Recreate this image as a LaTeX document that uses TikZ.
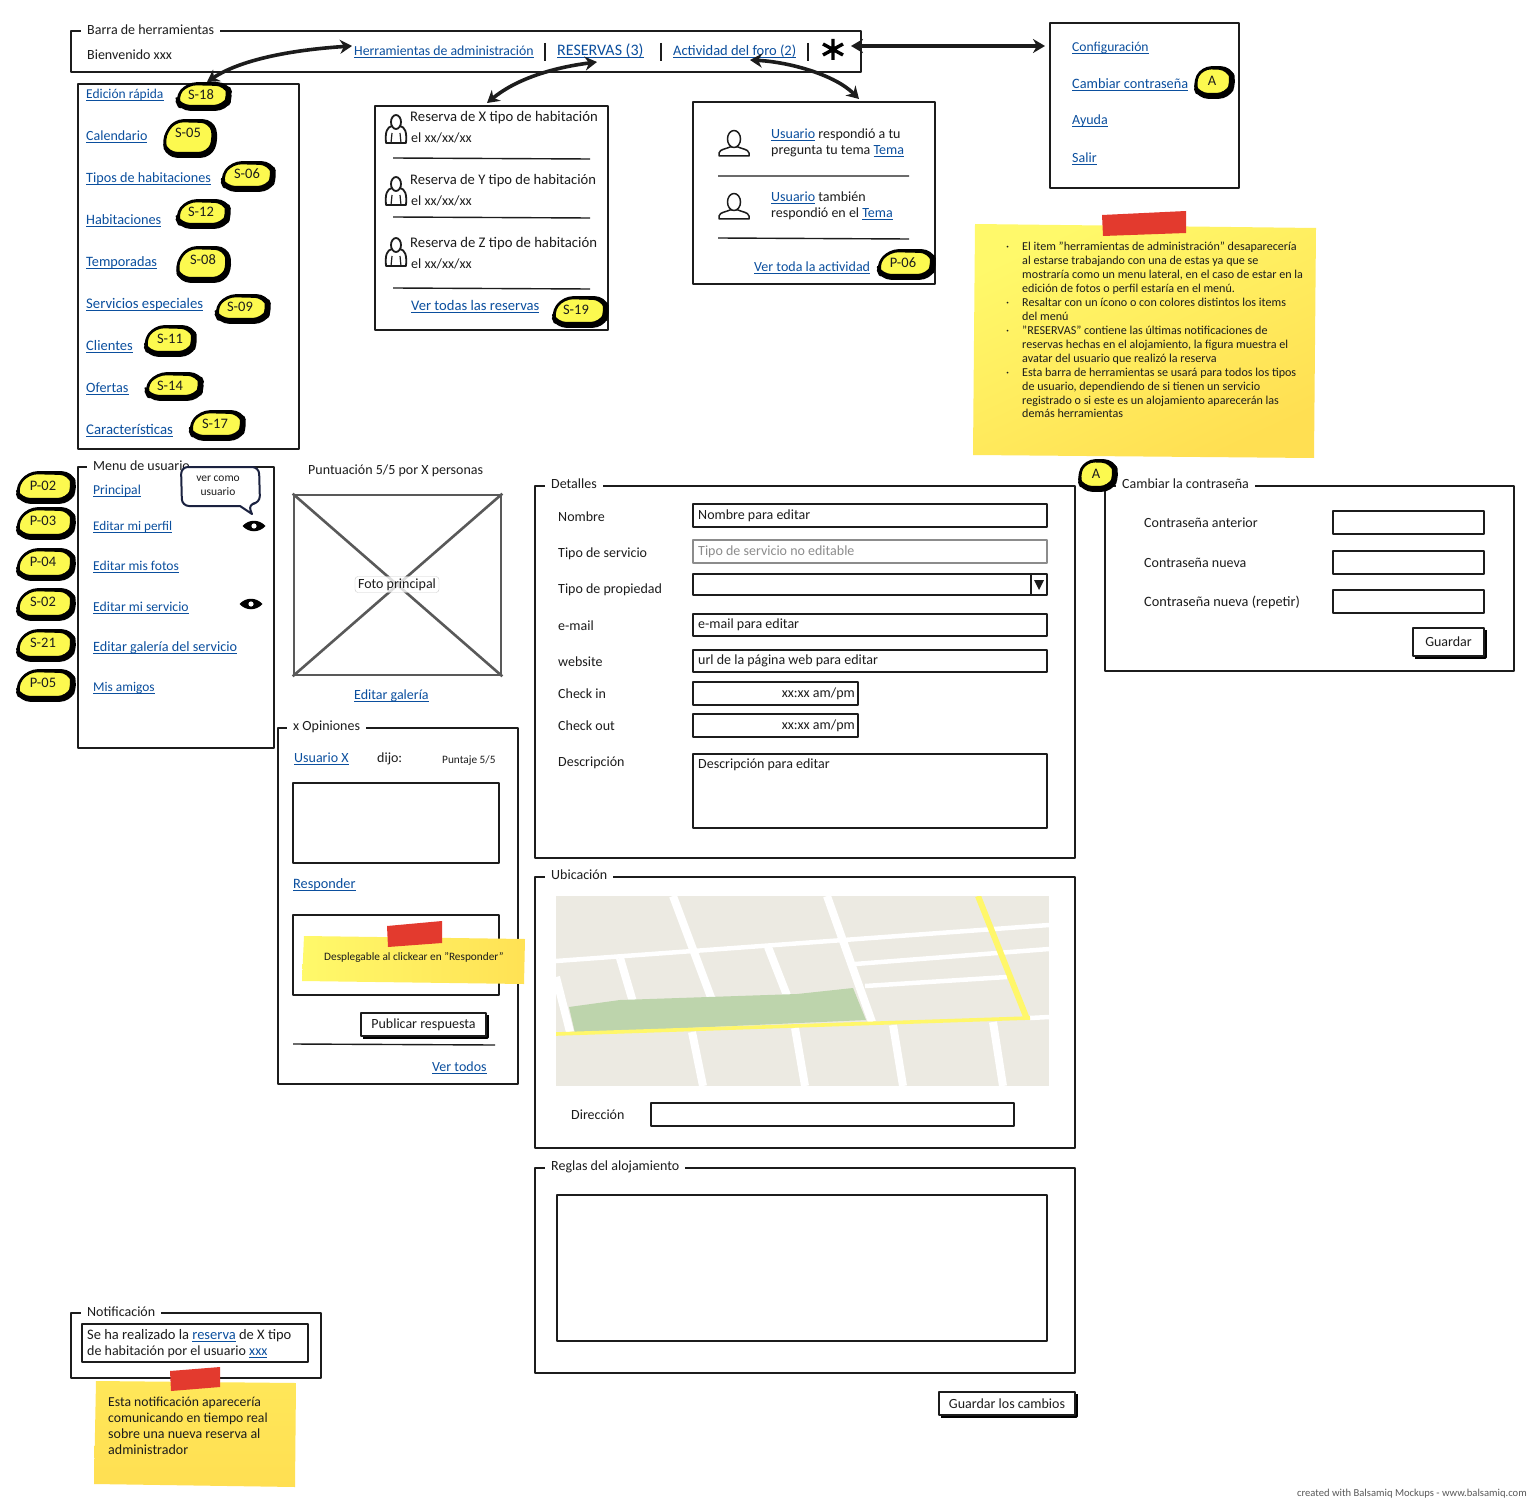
\documentclass[tikz,border=0pt]{standalone}
\usepackage{fontspec}
\setmainfont{Carlito}
\usetikzlibrary{arrows.meta}
\definecolor{ink}{HTML}{1C1C1C}
\definecolor{linkc}{HTML}{0B4F9E}
\definecolor{tagy}{HTML}{FCF94F}
\definecolor{notea}{HTML}{FFF96A}
\definecolor{noteb}{HTML}{FFDF52}
\definecolor{tapec}{HTML}{E33A2E}
\definecolor{mapbg}{HTML}{ECEAE2}
\definecolor{mapg}{HTML}{BDD4AC}
\definecolor{mapy}{HTML}{FFF76A}
\definecolor{navy}{HTML}{1B2240}
\newcommand{\lk}[1]{\textcolor{linkc}{\underline{\smash{#1}}}}
\newcounter{tn}
\tikzset{
 txt/.style={anchor=west,inner sep=0pt,text height=9pt,text depth=3pt,yshift=-2.5pt,font=\fontsize{14}{16}\selectfont,text=ink},
 small/.style={txt,font=\fontsize{11.3}{13}\selectfont},
 notetxt/.style={txt,font=\fontsize{12.1}{13}\selectfont},
 box/.style={draw=ink,line width=1.7pt,fill=white,inner sep=0pt,outer sep=0pt},
 ttl/.style={txt,fill=white,inner xsep=6pt},
 arr/.style={line width=3.6pt,draw=ink,{Stealth[length=12pt,width=14pt]}-{Stealth[length=12pt,width=14pt]}},
 rule/.style={draw=ink,line width=1.4pt},
 road/.style={draw=white,line width=8pt},
 roadn/.style={draw=white,line width=4.5pt},
 tagfill/.style={fill=tagy,draw=black,line width=2.6pt,rounded corners=9pt},
}
\newcommand{\tx}[3]{\stepcounter{tn}\node[txt] (t\arabic{tn}) at (#1,#2) {#3};}
\newcommand{\txs}[4]{\stepcounter{tn}\node[txt,font=\fontsize{#1}{16}\selectfont] (t\arabic{tn}) at (#2,#3) {#4};}
\newcommand{\ts}[3]{\stepcounter{tn}\node[small] (t\arabic{tn}) at (#1,#2) {#3};}
\newcommand{\tn}[3]{\stepcounter{tn}\node[notetxt] (t\arabic{tn}) at (#1,#2) {#3};}
\newcommand{\panel}[5]{\node[box,minimum width={#4-#2},minimum height={#5-#3}] (#1) at ({(#2+#4)/2},{(#3+#5)/2}) {};}
\newcommand{\ttitle}[3]{\stepcounter{tn}\node[ttl] (t\arabic{tn}) at (#1-6,#2) {#3};}
\newcommand{\btn}[6]{\draw[black,line width=3pt] (#4+1,#3+2) -- (#4+1,#5+1) -- (#2+2,#5+1);
 \node[box,minimum width={#4-#2},minimum height={#5-#3},font=\fontsize{14}{16}\selectfont,text=ink] (#1) at ({(#2+#4)/2},{(#3+#5)/2}) {#6};}
\newcommand{\tagb}[8]{% name x1 y1 x2 y2 tx ty text
 \draw[tagfill,line width=3.6pt,fill=black] (#2+1,{(#3+#5)/2+2}) -- ({#2+(#4-#2)*.22},#3+1) -- (#4-5,#3+1) -- (#4,{(#3+#5)/2}) -- (#4-7,#5-1) -- (#2+6,#5-1) -- cycle;
 \draw[tagfill,line width=2.2pt] (#2+1,{(#3+#5)/2+1}) -- ({#2+(#4-#2)*.22},#3+1) -- (#4-7,#3+2) -- (#4-3,{(#3+#5)/2-1}) -- (#4-9,#5-4) -- (#2+6,#5-4) -- cycle;
 \node[font=\fontsize{14.5}{16}\selectfont,text=ink,inner sep=0pt,text height=9pt,text depth=0pt] (#1) at (#6,#7) {#8};}
\newcommand{\persona}[2]{\begin{scope}[shift={(#1,#2)}]
 \draw[ink,line width=1.8pt,fill=white] (-10,13) .. controls (-11,2) and (-9,-3) .. (-4,-4) -- (4,-4) .. controls (9,-3) and (11,2) .. (10,13) -- cycle;
 \draw[ink,line width=1.8pt,fill=white] (0,-8) ellipse (5 and 7);
 \draw[ink,line width=1.2pt] (-5,13) -- (-4,3) (5,13) -- (4,3);
 \end{scope}}
\newcommand{\avatar}[2]{\begin{scope}[shift={(#1,#2)}]
 \draw[ink,line width=1.5pt,fill=white] (-15,12) -- (-15,9) .. controls (-14,5) and (-8,5) .. (-4,3) -- (4,3) .. controls (8,5) and (14,5) .. (15,9) -- (15,12) -- cycle;
 \draw[ink,line width=1.5pt,fill=white] (0,-5) ellipse (6.5 and 8.5);
 \end{scope}}
\newcommand{\eye}[2]{\begin{scope}[shift={(#1,#2)}]
 \fill[black] (-11.5,0) .. controls (-5,-7) and (5,-7) .. (11.5,0) .. controls (5,7) and (-5,7) .. (-11.5,0) -- cycle;
 \fill[white] (0,0) circle (2.6);
 \end{scope}}
\newcommand{\tape}[8]{\fill[tapec] (#1,#2) -- (#3,#4) -- (#5,#6) -- (#7,#8) -- cycle;}
\begin{document}
\begin{tikzpicture}[x=1pt,y=-1pt,line join=round]
\useasboundingbox (0,0) rectangle (1531,1503);
\fill[white] (0,0) rectangle (1531,1503);

% --- top bar
\panel{barra}{71}{31}{861}{72}
\ttitle{87}{29}{Barra de herramientas}
\tx{87}{54}{Bienvenido xxx}
\txs{13.8}{354}{50}{\lk{Herramientas de administración}}
\txs{16}{557}{50}{\lk{RESERVAS (3)}}
\txs{14.5}{673}{50}{\lk{Actividad del foro (2)}}
\draw[rule,line width=1.8pt] (545,43) -- (545,61) (661,43) -- (661,61) (808,43) -- (808,61);
\draw[black,line width=3.4pt] (833,39) -- (833,60) (823,44) -- (843,55) (843,44) -- (823,55);

% --- edit panel
\panel{edicion}{78}{84}{299}{449}
\txs{13.5}{86}{93}{\lk{Edición rápida}}
\tx{86}{135}{\lk{Calendario}}
\txs{14.2}{86}{177}{\lk{Tipos de habitaciones}}
\txs{14.3}{86}{219}{\lk{Habitaciones}}
\txs{14.3}{86}{261}{\lk{Temporadas}}
\txs{14.7}{86}{303}{\lk{Servicios especiales}}
\txs{14.5}{86}{345}{\lk{Clientes}}
\txs{14.2}{86}{387}{\lk{Ofertas}}
\txs{14.8}{86}{429}{\lk{Características}}
\tagb{s18}{175}{83}{232}{110}{201}{95}{S-18}
\tagb{s05}{162}{120}{217}{157}{188}{133}{S-05}
\tagb{s06}{220}{162}{276}{191}{247}{174}{S-06}
\tagb{s12}{175}{200}{231}{228}{201}{212}{S-12}
\tagb{s08}{175}{247}{231}{282}{203}{260}{S-08}
\tagb{s09}{214}{295}{271}{323}{240}{307}{S-09}
\tagb{s11}{143}{326}{197}{356}{170}{339}{S-11}
\tagb{s14}{144}{373}{204}{400}{170}{386}{S-14}
\tagb{s17}{188}{411}{246}{440}{215}{424}{S-17}

% --- reservas panel
\panel{reservas}{375}{106}{608}{330}
\txs{14.7}{410}{116}{Reserva de X tipo de habitación}
\tx{411}{137}{el xx/xx/xx}
\txs{14.6}{410}{179}{Reserva de Y tipo de habitación}
\tx{411}{200}{el xx/xx/xx}
\txs{14.7}{410}{242}{Reserva de Z tipo de habitación}
\tx{411}{263}{el xx/xx/xx}
\persona{396}{130}\persona{396}{192}\persona{396}{253}
\draw[rule] (393,158) -- (590,159) (393,217) -- (590,218) (393,288) -- (590,289);
\txs{14.6}{411}{305}{\lk{Ver todas las reservas}}
\tagb{s19}{551}{297}{609}{327}{576}{310}{S-19}

% --- actividad panel
\panel{actividad}{693}{102}{935}{284}
\tx{771}{133}{\lk{Usuario} respondió a tu}
\tx{771}{149}{pregunta tu tema \lk{Tema}}
\tx{771}{196}{\lk{Usuario} también}
\tx{771}{212}{respondió en el \lk{Tema}}
\avatar{734}{144}\avatar{734}{207}
\draw[rule] (718,176) -- (909,176) (718,238) -- (909,239);
\tx{754}{266}{\lk{Ver toda la actividad}}
\tagb{p06}{876}{250}{936}{279}{903}{263}{P-06}

% --- config panel
\panel{config}{1050}{23}{1239}{188}
\txs{13.6}{1072}{46}{\lk{Configuración}}
\txs{14.3}{1072}{83}{\lk{Cambiar contraseña}}
\tx{1072}{119}{\lk{Ayuda}}
\tx{1072}{157}{\lk{Salir}}
\tagb{aa}{1193}{67}{1235}{98}{1212}{81}{A}

% --- big note
\shade[top color=notea,bottom color=noteb,shading angle=25] (975,224) -- (1316,228) -- (1314,458) -- (973,455) -- cycle;
\tape{1102}{215}{1186}{211}{1186}{233}{1103}{236}
\tn{1006}{245}{·}\tn{1022}{245}{El item "herramientas de administración" desaparecería}
\tn{1022}{259}{al estarse trabajando con una de estas ya que se}
\tn{1022}{273}{mostraría como un menu lateral, en el caso de estar en la}
\tn{1022}{287}{edición de fotos o perfil estaría en el menú.}
\tn{1006}{301}{·}\tn{1022}{301}{Resaltar con un ícono o con colores distintos los items}
\tn{1022}{315}{del menú}
\tn{1006}{329}{·}\tn{1022}{329}{"RESERVAS" contiene las últimas notificaciones de}
\tn{1022}{343}{reservas hechas en el alojamiento, la figura muestra el}
\tn{1022}{357}{avatar del usuario que realizó la reserva}
\tn{1006}{371}{·}\tn{1022}{371}{Esta barra de herramientas se usará para todos los tipos}
\tn{1022}{385}{de usuario, dependiendo de si tienen un servicio}
\tn{1022}{399}{registrado o si este es un alojamiento aparecerán las}
\tn{1022}{412}{demás herramientas}

% --- arrows
\coordinate (a1a) at (352,46); \coordinate (a1b) at (207,82);
\coordinate (a2a) at (597,62); \coordinate (a2b) at (487,103);
\coordinate (a3a) at (750,60); \coordinate (a3b) at (859,99);
\coordinate (a4a) at (851,46); \coordinate (a4b) at (1045,46);
\draw[arr] (a1a) .. controls (290,50) and (240,60) .. (a1b);
\draw[arr] (a2a) .. controls (550,68) and (515,80) .. (a2b);
\draw[arr] (a3a) .. controls (790,62) and (835,75) .. (a3b);
\draw[arr] (a4a) -- (a4b);

% --- user menu
\panel{menu}{78}{467}{274}{748}
\ttitle{93}{465}{Menu de usuario}
\txs{13.6}{93}{489}{\lk{Principal}}
\txs{13.2}{93}{525}{\lk{Editar mi perfil}}
\txs{13.6}{93}{565}{\lk{Editar mis fotos}}
\txs{13.7}{93}{606}{\lk{Editar mi servicio}}
\txs{14.2}{93}{646}{\lk{Editar galería del servicio}}
\txs{13.4}{93}{686}{\lk{Mis amigos}}
\draw[navy,line width=2pt,fill=white,rounded corners=7pt] (181,467) -- (259,467) -- (260,503) -- (248,504) [sharp corners] -- (252,514) -- (240,506) [rounded corners=7pt] -- (182,506) -- cycle;
\node[font=\fontsize{11.5}{14}\selectfont,text=ink,align=center,inner sep=0pt] (verc) at (218,486) {ver como\\[0pt]usuario};
\eye{254}{526}\eye{251}{604}
\tagb{p02}{15}{472}{76}{503}{43}{486}{P-02}
\tagb{p03}{15}{508}{76}{539}{43}{521}{P-03}
\tagb{p04}{15}{549}{76}{580}{43}{562}{P-04}
\tagb{s02}{15}{589}{76}{620}{43}{602}{S-02}
\tagb{s21}{15}{630}{76}{661}{43}{643}{S-21}
\tagb{p05}{15}{670}{76}{701}{43}{683}{P-05}

% --- photo
\tx{308}{469}{Puntuación 5/5 por X personas}
\node[draw=black!65,line width=2.6pt,fill=white,minimum width=207,minimum height=180,inner sep=0pt] (foto) at (397.5,585) {};
\draw[black!65,line width=2.6pt] (foto.north west) -- (foto.south east) (foto.north east) -- (foto.south west);
\node[draw=black!20,fill=white,fill opacity=.8,text opacity=1,rounded corners=3pt,inner xsep=3pt,inner ysep=2pt,font=\fontsize{14}{16}\selectfont,text=ink] (fotol) at (397,584.5) {Foto principal};
\tx{354}{694}{\lk{Editar galería}}

% --- opiniones
\panel{opin}{278}{728}{518}{1084}
\ttitle{293}{725}{x Opiniones}
\tx{294}{757}{\lk{Usuario X}}
\tx{377}{757}{dijo:}
\ts{442}{758}{Puntaje 5/5}
\panel{opin1}{293}{783}{499}{863}
\txs{14.3}{293}{883}{\lk{Responder}}
\panel{opin2}{293}{915}{499}{995}
\shade[left color=notea,right color=noteb!90!notea] (304,936) -- (525,939) -- (524,984) -- (302,981) -- cycle;
\tape{387}{926}{442}{921}{442}{943}{388}{947}
\ts{324}{955}{Desplegable al clickear en "Responder"}
\btn{publicar}{361}{1013}{486}{1036}{Publicar respuesta}
\draw[rule] (293,1044) -- (495,1045);
\tx{432}{1066}{\lk{Ver todos}}

% --- detalles
\panel{detalles}{535}{486}{1075}{858}
\ttitle{551}{483}{Detalles}
\tx{558}{516}{Nombre}
\tx{558}{552}{Tipo de servicio}
\tx{558}{588}{Tipo de propiedad}
\tx{558}{625}{e-mail}
\tx{558}{661}{website}
\tx{558}{693}{Check in}
\tx{558}{725}{Check out}
\tx{558}{761}{Descripción}
\panel{i1}{693}{504}{1047}{527}
\tx{698}{514}{Nombre para editar}
\node[box,draw=black!45,minimum width=354,minimum height=23] (i2) at (870,551.5) {};
\node[txt,text=black!45] (tgris) at (698,550) {Tipo de servicio no editable};
\panel{i3}{693}{574}{1047}{595}
\draw[ink,line width=1.5pt] (1031,574) -- (1031,595);
\fill[ink] (1034,580) -- (1044,580) -- (1039,590) -- cycle;
\panel{i4}{693}{614}{1047}{636}
\tx{698}{623}{e-mail para editar}
\panel{i5}{693}{650}{1047}{672}
\tx{698}{659}{url de la página web para editar}
\panel{i6}{693}{682}{858}{705}
\node[txt,anchor=east] (ci) at (855,692) {xx:xx am/pm};
\panel{i7}{693}{714}{858}{737}
\node[txt,anchor=east] (co) at (855,724) {xx:xx am/pm};
\panel{i8}{693}{754}{1047}{828}
\tx{698}{763}{Descripción para editar}

% --- ubicacion
\panel{ubic}{535}{877}{1075}{1148}
\ttitle{551}{874}{Ubicación}
\begin{scope}
\clip (556,896) rectangle (1049,1086);
\fill[mapbg] (556,896) rectangle (1049,1086);
\draw[road] (673,896) -- (712,1000) (692,1032) -- (703,1086) (827,896) -- (872,1022) (620,958) -- (633,1002) (768,947) -- (788,998) (556,977) -- (570,1032) (795,1028) -- (805,1086) (893,1025) -- (903,1086) (993,1022) -- (1003,1086);
\draw[roadn] (556,961) -- (1049,925) (855,964) -- (1049,949) (865,986) -- (1007,977) (1030,1018) -- (1049,1017);
\fill[mapg] (569,1007) -- (620,1000) -- (797,994) -- (853,988) -- (866,1020) -- (575,1033) -- cycle;
\draw[mapy,line width=3.6pt] (556,1034) -- (1030,1018);
\draw[mapy,line width=6pt] (978,896) -- (1027,1019);
\end{scope}
\tx{571}{1114}{Dirección}
\panel{dir}{651}{1103}{1014}{1126}

% --- reglas
\panel{reglas}{535}{1168}{1075}{1373}
\ttitle{551}{1165}{Reglas del alojamiento}
\panel{reglas2}{557}{1195}{1047}{1341}
\btn{guardarc}{939}{1392}{1075}{1415}{Guardar los cambios}

% --- contrasena
\panel{contra}{1105}{486}{1514}{671}
\ttitle{1122}{483}{Cambiar la contraseña}
\tagb{ab}{1077}{460}{1118}{491}{1096}{474}{A}
\tx{1144}{522}{Contraseña anterior}
\tx{1144}{562}{Contraseña nueva}
\txs{14.3}{1144}{601}{Contraseña nueva (repetir)}
\panel{c1}{1333}{511}{1484}{534}
\panel{c2}{1333}{551}{1484}{574}
\panel{c3}{1333}{590}{1484}{613}
\btn{guardar}{1413}{628}{1484}{656}{Guardar}

% --- notificacion
\panel{notif}{71}{1313}{321}{1378}
\ttitle{87}{1311}{Notificación}
\panel{notif2}{82}{1324}{308}{1362}
\txs{14.5}{87}{1334}{Se ha realizado la \lk{reserva} de X tipo}
\tx{87}{1350}{de habitación por el usuario \lk{xxx}}
\shade[top color=noteb!70!notea,bottom color=noteb] (96,1381) -- (296,1383) -- (295,1487) -- (94,1484) -- cycle;
\tape{170}{1371}{220}{1367}{220}{1387}{171}{1391}
\txs{13.7}{108}{1401}{Esta notificación aparecería}
\txs{13.7}{108}{1417}{comunicando en tiempo real}
\txs{14}{108}{1433}{sobre una nueva reserva al}
\tx{108}{1449}{administrador}

\node[anchor=east,inner sep=0pt,font=\fontsize{10.6}{13}\selectfont,text=black!65] (foot) at (1527,1494) {created with Balsamiq Mockups - www.balsamiq.com};
\end{tikzpicture}
\end{document}
